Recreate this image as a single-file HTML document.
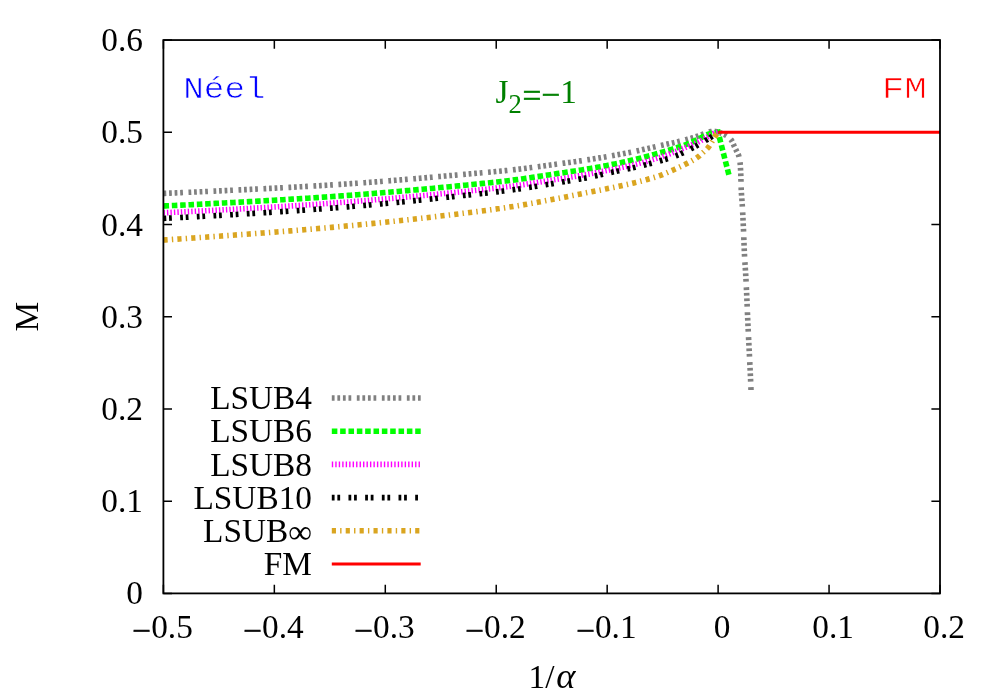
<!DOCTYPE html>
<html><head><meta charset="utf-8"><title>M vs 1/alpha</title>
<style>
html,body{margin:0;padding:0;background:#fff;}
svg{display:block;}
text{font-family:"Liberation Serif",serif;font-size:33.33px;fill:#000;}
.mono{font-family:"Liberation Mono",monospace;}
</style></head><body>
<svg width="1000" height="700" viewBox="0 0 1000 700">
<rect x="0" y="0" width="1000" height="700" fill="#ffffff"/>

<g stroke="#000" stroke-width="1.5" fill="none" stroke-linecap="butt">
<path d="M163.40,593.40 h8.60 M940.00,593.40 h-8.60"/>
<path d="M163.40,501.17 h8.60 M940.00,501.17 h-8.60"/>
<path d="M163.40,408.95 h8.60 M940.00,408.95 h-8.60"/>
<path d="M163.40,316.72 h8.60 M940.00,316.72 h-8.60"/>
<path d="M163.40,224.50 h8.60 M940.00,224.50 h-8.60"/>
<path d="M163.40,132.27 h8.60 M940.00,132.27 h-8.60"/>
<path d="M163.40,40.05 h8.60 M940.00,40.05 h-8.60"/>
<path d="M163.40,593.40 v-8.60 M163.40,40.05 v8.60"/>
<path d="M274.34,593.40 v-8.60 M274.34,40.05 v8.60"/>
<path d="M385.29,593.40 v-8.60 M385.29,40.05 v8.60"/>
<path d="M496.23,593.40 v-8.60 M496.23,40.05 v8.60"/>
<path d="M607.17,593.40 v-8.60 M607.17,40.05 v8.60"/>
<path d="M718.11,593.40 v-8.60 M718.11,40.05 v8.60"/>
<path d="M829.06,593.40 v-8.60 M829.06,40.05 v8.60"/>
<path d="M940.00,593.40 v-8.60 M940.00,40.05 v8.60"/>
</g>
<text x="143.00" y="604.40" text-anchor="end">0</text>
<text x="143.00" y="512.17" text-anchor="end">0.1</text>
<text x="143.00" y="419.95" text-anchor="end">0.2</text>
<text x="143.00" y="327.72" text-anchor="end">0.3</text>
<text x="143.00" y="235.50" text-anchor="end">0.4</text>
<text x="143.00" y="143.27" text-anchor="end">0.5</text>
<text x="143.00" y="51.05" text-anchor="end">0.6</text>
<text x="162.60" y="638.00" text-anchor="middle"><tspan dy="3.6" stroke="#000" stroke-width="0.4">−</tspan><tspan dy="-3.6">0.5</tspan></text>
<text x="273.54" y="638.00" text-anchor="middle"><tspan dy="3.6" stroke="#000" stroke-width="0.4">−</tspan><tspan dy="-3.6">0.4</tspan></text>
<text x="384.49" y="638.00" text-anchor="middle"><tspan dy="3.6" stroke="#000" stroke-width="0.4">−</tspan><tspan dy="-3.6">0.3</tspan></text>
<text x="495.43" y="638.00" text-anchor="middle"><tspan dy="3.6" stroke="#000" stroke-width="0.4">−</tspan><tspan dy="-3.6">0.2</tspan></text>
<text x="606.37" y="638.00" text-anchor="middle"><tspan dy="3.6" stroke="#000" stroke-width="0.4">−</tspan><tspan dy="-3.6">0.1</tspan></text>
<text x="722.21" y="638.00" text-anchor="middle">0</text>
<text x="833.16" y="638.00" text-anchor="middle">0.1</text>
<text x="944.10" y="638.00" text-anchor="middle">0.2</text>
<text x="528.6" y="687.6">1/<tspan dx="1.7" font-size="36.6" font-style="italic">α</tspan></text>
<text transform="translate(38.4,316.6) rotate(-90)" text-anchor="middle">M</text>
<text class="mono" transform="translate(183.2,97.7) scale(1.03,0.860)" style="fill:#0000ff;stroke:#fff;stroke-width:0.7px;paint-order:fill stroke">Néel</text>
<text class="mono" transform="translate(926.9,97.7) scale(1.13,0.860)" text-anchor="end" style="fill:#ff0000;stroke:#fff;stroke-width:0.7px;paint-order:fill stroke">FM</text>
<text x="495.5" y="102.8" style="fill:#008000">J<tspan dy="10" font-size="26.67">2</tspan><tspan dx="0.8" dy="-6.2" stroke="#008000" stroke-width="0.5">=</tspan><tspan dy="-0.2" stroke="#008000" stroke-width="0.5">−</tspan><tspan dy="-3.6">1</tspan></text>
<path d="M163.50,193.40 L164.88,193.34 L166.26,193.28 L167.64,193.22 L169.02,193.17 L170.40,193.11 L171.78,193.05 L173.16,192.99 L174.54,192.93 L175.92,192.87 L177.30,192.81 L178.68,192.75 L180.06,192.69 L181.44,192.63 L182.82,192.57 L184.20,192.50 L185.58,192.44 L186.96,192.38 L188.34,192.32 L189.71,192.26 L191.09,192.20 L192.47,192.13 L193.85,192.07 L195.23,192.01 L196.61,191.95 L197.99,191.88 L199.37,191.82 L200.75,191.76 L202.13,191.69 L203.51,191.63 L204.89,191.57 L206.27,191.50 L207.65,191.44 L209.03,191.37 L210.41,191.31 L211.79,191.24 L213.17,191.18 L214.55,191.12 L215.93,191.05 L217.31,190.98 L218.69,190.92 L220.06,190.85 L221.44,190.79 L222.82,190.72 L224.20,190.66 L225.58,190.59 L226.96,190.52 L228.34,190.46 L229.72,190.39 L231.10,190.32 L232.48,190.26 L233.86,190.19 L235.24,190.12 L236.62,190.06 L238.00,189.99 L239.38,189.92 L240.76,189.85 L242.14,189.79 L243.51,189.72 L244.89,189.65 L246.27,189.58 L247.65,189.52 L249.03,189.45 L250.41,189.38 L251.79,189.31 L253.17,189.24 L254.55,189.17 L255.93,189.10 L257.31,189.03 L258.69,188.97 L260.07,188.90 L261.45,188.83 L262.82,188.76 L264.20,188.69 L265.58,188.62 L266.96,188.55 L268.34,188.48 L269.72,188.41 L271.10,188.34 L272.48,188.27 L273.86,188.20 L275.24,188.13 L276.62,188.05 L278.00,187.98 L279.38,187.91 L280.75,187.84 L282.13,187.77 L283.51,187.69 L284.89,187.62 L286.27,187.55 L287.65,187.47 L289.03,187.40 L290.41,187.33 L291.79,187.25 L293.17,187.18 L294.55,187.10 L295.92,187.03 L297.30,186.95 L298.68,186.87 L300.06,186.80 L301.44,186.72 L302.82,186.64 L304.20,186.56 L305.58,186.48 L306.95,186.40 L308.33,186.32 L309.71,186.24 L311.09,186.16 L312.47,186.08 L313.85,186.00 L315.23,185.92 L316.60,185.84 L317.98,185.76 L319.36,185.67 L320.74,185.59 L322.12,185.51 L323.50,185.42 L324.88,185.34 L326.25,185.25 L327.63,185.17 L329.01,185.08 L330.39,184.99 L331.77,184.91 L333.15,184.82 L334.52,184.73 L335.90,184.64 L337.28,184.56 L338.66,184.47 L340.04,184.38 L341.42,184.29 L342.79,184.20 L344.17,184.10 L345.55,184.01 L346.93,183.92 L348.31,183.83 L349.68,183.73 L351.06,183.64 L352.44,183.55 L353.82,183.45 L355.19,183.36 L356.57,183.26 L357.95,183.16 L359.33,183.07 L360.70,182.97 L362.08,182.87 L363.46,182.77 L364.84,182.67 L366.21,182.57 L367.59,182.47 L368.97,182.37 L370.35,182.26 L371.72,182.16 L373.10,182.06 L374.48,181.95 L375.85,181.84 L377.23,181.74 L378.61,181.63 L379.98,181.52 L381.36,181.42 L382.74,181.31 L384.11,181.20 L385.49,181.09 L386.87,180.98 L388.24,180.87 L389.62,180.76 L391.00,180.64 L392.37,180.53 L393.75,180.42 L395.13,180.31 L396.50,180.19 L397.88,180.08 L399.26,179.97 L400.63,179.86 L402.01,179.74 L403.39,179.63 L404.76,179.51 L406.14,179.40 L407.51,179.29 L408.89,179.17 L410.27,179.06 L411.64,178.94 L413.02,178.83 L414.40,178.71 L415.77,178.60 L417.15,178.48 L418.52,178.36 L419.90,178.24 L421.28,178.13 L422.65,178.01 L424.03,177.89 L425.40,177.77 L426.78,177.65 L428.15,177.53 L429.53,177.41 L430.91,177.29 L432.28,177.17 L433.66,177.05 L435.03,176.93 L436.41,176.81 L437.78,176.68 L439.16,176.56 L440.54,176.44 L441.91,176.32 L443.29,176.19 L444.66,176.07 L446.04,175.95 L447.41,175.83 L448.79,175.70 L450.16,175.58 L451.54,175.46 L452.92,175.33 L454.29,175.21 L455.67,175.09 L457.04,174.96 L458.42,174.84 L459.79,174.72 L461.17,174.60 L462.54,174.47 L463.92,174.35 L465.30,174.23 L466.67,174.11 L468.05,173.99 L469.42,173.87 L470.80,173.76 L472.18,173.64 L473.55,173.52 L474.93,173.40 L476.31,173.28 L477.68,173.16 L479.06,173.04 L480.43,172.92 L481.81,172.81 L483.19,172.69 L484.56,172.57 L485.94,172.44 L487.31,172.32 L488.69,172.20 L490.07,172.08 L491.44,171.95 L492.82,171.83 L494.19,171.70 L495.57,171.57 L496.94,171.44 L498.32,171.31 L499.69,171.18 L501.06,171.05 L502.44,170.91 L503.81,170.78 L505.19,170.64 L506.56,170.50 L507.93,170.35 L509.31,170.21 L510.68,170.06 L512.05,169.91 L513.42,169.76 L514.79,169.61 L516.17,169.45 L517.54,169.29 L518.91,169.13 L520.28,168.97 L521.65,168.80 L523.02,168.63 L524.39,168.46 L525.76,168.29 L527.13,168.12 L528.50,167.94 L529.87,167.77 L531.24,167.59 L532.61,167.41 L533.98,167.23 L535.35,167.05 L536.72,166.86 L538.09,166.68 L539.46,166.50 L540.83,166.31 L542.19,166.13 L543.56,165.94 L544.93,165.75 L546.30,165.57 L547.67,165.38 L549.04,165.19 L550.41,165.01 L551.78,164.82 L553.14,164.63 L554.51,164.44 L555.88,164.26 L557.25,164.07 L558.62,163.89 L559.99,163.70 L561.36,163.52 L562.72,163.33 L564.09,163.15 L565.46,162.96 L566.83,162.78 L568.20,162.59 L569.57,162.41 L570.94,162.22 L572.30,162.03 L573.67,161.84 L575.04,161.65 L576.41,161.46 L577.77,161.26 L579.14,161.07 L580.51,160.87 L581.87,160.67 L583.24,160.47 L584.61,160.26 L585.97,160.06 L587.34,159.85 L588.70,159.64 L590.07,159.42 L591.43,159.21 L592.79,158.99 L594.16,158.77 L595.52,158.55 L596.88,158.33 L598.25,158.10 L599.61,157.88 L600.97,157.65 L602.33,157.42 L603.69,157.19 L605.06,156.96 L606.42,156.72 L607.78,156.49 L609.14,156.25 L610.50,156.01 L611.86,155.77 L613.22,155.53 L614.58,155.29 L615.94,155.04 L617.30,154.80 L618.66,154.55 L620.01,154.30 L621.37,154.05 L622.73,153.80 L624.09,153.54 L625.44,153.28 L626.80,153.02 L628.16,152.76 L629.51,152.49 L630.87,152.22 L632.22,151.95 L633.57,151.68 L634.92,151.40 L636.28,151.11 L637.62,150.82 L638.97,150.52 L640.32,150.22 L641.67,149.91 L643.01,149.60 L644.36,149.29 L645.70,148.98 L647.05,148.67 L648.40,148.35 L649.74,148.05 L651.09,147.74 L652.43,147.43 L653.78,147.12 L655.13,146.81 L656.47,146.50 L657.82,146.20 L659.16,145.89 L660.51,145.58 L661.86,145.28 L663.21,144.99 L664.56,144.69 L665.91,144.40 L667.26,144.11 L668.61,143.81 L669.96,143.52 L671.31,143.22 L672.65,142.92 L674.00,142.62 L675.35,142.31 L676.69,141.99 L678.03,141.66 L679.37,141.33 L680.71,141.00 L682.05,140.66 L683.39,140.32 L684.73,139.98 L686.07,139.63 L687.40,139.27 L688.73,138.90 L690.06,138.53 L691.39,138.15 L692.72,137.77 L694.04,137.37 L695.36,136.96 L696.66,136.51 L697.96,136.03 L699.25,135.55 L700.54,135.06 L701.84,134.58 L703.14,134.10 L704.43,133.60 L705.73,133.08 L707.02,132.57 L708.33,132.13 L709.65,131.80 L711.01,131.58 L712.39,131.39 L713.77,131.30 L715.12,131.41 L716.47,131.75 L717.81,132.15 L719.14,132.52 L720.46,132.95 L721.76,133.41" fill="none" stroke="#808080" stroke-width="5.60" stroke-dasharray="2.78,2.78,2.78,2.78,2.78,2.78,2.78,5.56" stroke-linejoin="miter" stroke-linecap="butt"/>
<path d="M721.76,133.41 L723.06,133.91 L724.35,134.44 L725.59,135.05 L726.74,135.75 L727.86,136.56 L728.94,137.48 L729.96,138.48 L730.88,139.53 L731.67,140.61 L732.33,141.78 L732.91,143.04 L733.45,144.34 L734.01,145.62 L734.60,146.87 L735.19,148.12 L735.78,149.37 L736.36,150.62 L736.97,151.87 L737.62,153.11 L738.21,154.36 L738.70,155.64 L739.04,156.95 L739.34,158.29 L739.61,159.65 L739.84,161.03 L740.03,162.41 L740.18,163.78 L740.29,165.15 L740.39,166.53 L740.48,167.91 L740.55,169.29 L740.62,170.67 L740.68,172.05 L740.74,173.43 L740.79,174.81 L740.84,176.19 L740.89,177.57 L740.92,178.95 L740.96,180.33 L740.99,181.72 L741.02,183.10 L741.06,184.48 L741.09,185.86 L741.14,187.24 L741.19,188.62 L741.24,190.00 L741.31,191.38 L741.40,192.75 L741.49,194.13 L741.58,195.51 L741.69,196.89 L741.79,198.26 L741.90,199.64 L742.00,201.02 L742.10,202.40 L742.19,203.77 L742.28,205.15 L742.36,206.53 L742.43,207.91 L742.51,209.29 L742.58,210.67 L742.66,212.05 L742.73,213.43 L742.80,214.81 L742.86,216.19 L742.93,217.56 L743.00,218.94 L743.06,220.32 L743.13,221.70 L743.19,223.08 L743.25,224.46 L743.32,225.84 L743.38,227.22 L743.44,228.60 L743.50,229.98 L743.56,231.36 L743.62,232.74 L743.67,234.12 L743.73,235.50 L743.78,236.88 L743.83,238.26 L743.88,239.64 L743.93,241.02 L743.98,242.40 L744.03,243.78 L744.09,245.16 L744.14,246.54 L744.19,247.92 L744.25,249.30 L744.30,250.68 L744.36,252.06 L744.43,253.44 L744.49,254.82 L744.56,256.20 L744.63,257.58 L744.71,258.96 L744.79,260.33 L744.88,261.71 L744.97,263.09 L745.06,264.47 L745.15,265.85 L745.24,267.23 L745.33,268.60 L745.42,269.98 L745.51,271.36 L745.60,272.74 L745.68,274.12 L745.76,275.50 L745.84,276.87 L745.91,278.25 L745.98,279.63 L746.05,281.01 L746.12,282.39 L746.19,283.77 L746.26,285.15 L746.32,286.53 L746.39,287.91 L746.45,289.29 L746.51,290.67 L746.58,292.05 L746.64,293.43 L746.70,294.81 L746.76,296.19 L746.82,297.57 L746.88,298.95 L746.94,300.33 L746.99,301.71 L747.05,303.09 L747.11,304.47 L747.17,305.84 L747.22,307.22 L747.28,308.60 L747.34,309.98 L747.40,311.36 L747.45,312.74 L747.51,314.12 L747.57,315.50 L747.63,316.88 L747.68,318.26 L747.74,319.64 L747.80,321.02 L747.86,322.40 L747.92,323.78 L747.98,325.16 L748.04,326.54 L748.11,327.92 L748.17,329.30 L748.23,330.68 L748.30,332.06 L748.36,333.44 L748.43,334.82 L748.49,336.20 L748.56,337.58 L748.63,338.96 L748.69,340.34 L748.76,341.72 L748.83,343.10 L748.90,344.48 L748.96,345.85 L749.03,347.23 L749.10,348.61 L749.17,349.99 L749.24,351.37 L749.31,352.75 L749.38,354.13 L749.45,355.51 L749.51,356.89 L749.58,358.27 L749.65,359.65 L749.72,361.03 L749.79,362.41 L749.85,363.79 L749.92,365.17 L749.99,366.54 L750.05,367.92 L750.12,369.30 L750.18,370.68 L750.25,372.06 L750.31,373.44 L750.37,374.82 L750.43,376.20 L750.50,377.58 L750.56,378.96 L750.61,380.34 L750.67,381.72 L750.73,383.10 L750.78,384.48 L750.84,385.86 L750.89,387.24 L750.95,388.62 L751.00,390.00" fill="none" stroke="#808080" stroke-width="5.60" stroke-dasharray="2.78,2.78,2.78,2.78,2.78,2.78,2.78,5.56" stroke-dashoffset="14.15" stroke-linejoin="miter" stroke-linecap="butt"/>
<path d="M163.50,206.00 L165.75,205.89 L168.01,205.79 L170.26,205.68 L172.52,205.57 L174.77,205.46 L177.03,205.36 L179.28,205.25 L181.54,205.14 L183.79,205.02 L186.05,204.91 L188.30,204.80 L190.56,204.69 L192.81,204.58 L195.07,204.46 L197.32,204.35 L199.57,204.23 L201.83,204.12 L204.08,204.00 L206.34,203.89 L208.59,203.77 L210.85,203.65 L213.10,203.54 L215.36,203.42 L217.61,203.30 L219.86,203.18 L222.12,203.06 L224.37,202.94 L226.63,202.82 L228.88,202.70 L231.13,202.58 L233.39,202.46 L235.64,202.34 L237.90,202.22 L240.15,202.09 L242.40,201.97 L244.66,201.85 L246.91,201.72 L249.17,201.60 L251.42,201.48 L253.67,201.35 L255.93,201.23 L258.18,201.10 L260.44,200.98 L262.69,200.85 L264.94,200.72 L267.20,200.60 L269.45,200.47 L271.70,200.34 L273.96,200.21 L276.21,200.08 L278.47,199.95 L280.72,199.82 L282.97,199.69 L285.23,199.56 L287.48,199.42 L289.73,199.29 L291.99,199.15 L294.24,199.02 L296.49,198.88 L298.75,198.74 L301.00,198.60 L303.25,198.46 L305.50,198.32 L307.76,198.18 L310.01,198.03 L312.26,197.89 L314.51,197.74 L316.77,197.59 L319.02,197.44 L321.27,197.29 L323.52,197.14 L325.78,196.99 L328.03,196.83 L330.28,196.68 L332.53,196.52 L334.78,196.36 L337.04,196.21 L339.29,196.05 L341.54,195.89 L343.79,195.72 L346.04,195.56 L348.29,195.39 L350.55,195.23 L352.80,195.06 L355.05,194.89 L357.30,194.72 L359.55,194.55 L361.80,194.38 L364.05,194.21 L366.30,194.03 L368.55,193.86 L370.80,193.68 L373.05,193.50 L375.30,193.32 L377.55,193.13 L379.80,192.95 L382.05,192.76 L384.30,192.57 L386.55,192.39 L388.80,192.20 L391.05,192.01 L393.30,191.81 L395.55,191.62 L397.80,191.43 L400.05,191.23 L402.29,191.04 L404.54,190.84 L406.79,190.65 L409.04,190.45 L411.29,190.25 L413.54,190.05 L415.79,189.85 L418.04,189.65 L420.28,189.45 L422.53,189.25 L424.78,189.04 L427.03,188.84 L429.28,188.63 L431.52,188.42 L433.77,188.21 L436.02,188.00 L438.27,187.79 L440.51,187.58 L442.76,187.37 L445.01,187.16 L447.26,186.94 L449.50,186.72 L451.75,186.51 L454.00,186.29 L456.24,186.07 L458.49,185.85 L460.74,185.63 L462.98,185.41 L465.23,185.19 L467.48,184.97 L469.72,184.75 L471.97,184.53 L474.22,184.30 L476.46,184.08 L478.71,183.86 L480.96,183.64 L483.20,183.41 L485.45,183.18 L487.70,182.95 L489.94,182.72 L492.19,182.48 L494.43,182.24 L496.68,182.00 L498.92,181.75 L501.16,181.50 L503.40,181.25 L505.65,180.99 L507.89,180.72 L510.13,180.45 L512.37,180.17 L514.60,179.89 L516.84,179.60 L519.08,179.30 L521.31,178.99 L523.55,178.68 L525.78,178.36 L528.02,178.04 L530.25,177.71 L532.49,177.38 L534.72,177.05 L536.95,176.71 L539.18,176.37 L541.42,176.03 L543.65,175.69 L545.88,175.35 L548.11,175.00 L550.34,174.66 L552.58,174.32 L554.81,173.98 L557.04,173.64 L559.27,173.31 L561.50,172.98 L563.74,172.65 L565.97,172.32 L568.20,171.99 L570.44,171.65 L572.67,171.32 L574.90,170.98 L577.13,170.64 L579.36,170.30 L581.59,169.94 L583.82,169.59 L586.05,169.22 L588.28,168.85 L590.50,168.47 L592.73,168.09 L594.95,167.70 L597.17,167.30 L599.40,166.90 L601.62,166.50 L603.84,166.08 L606.05,165.66 L608.27,165.24 L610.48,164.80 L612.70,164.36 L614.91,163.92 L617.12,163.46 L619.33,163.00 L621.54,162.53 L623.75,162.05 L625.95,161.57 L628.16,161.07 L630.36,160.57 L632.56,160.06 L634.75,159.54 L636.94,159.00 L639.13,158.44 L641.31,157.87 L643.49,157.28 L645.67,156.69 L647.85,156.10 L650.03,155.51 L652.21,154.92 L654.39,154.34 L656.57,153.75 L658.75,153.15 L660.92,152.54 L663.09,151.92 L665.26,151.29 L667.42,150.65 L669.58,150.00 L671.74,149.33 L673.90,148.66 L676.05,147.98 L678.21,147.29 L680.35,146.58 L682.48,145.85 L684.60,145.08 L686.70,144.27 L688.79,143.40 L690.86,142.50 L692.92,141.58 L694.97,140.64 L697.00,139.65 L699.02,138.64 L701.04,137.63 L703.05,136.57 L705.05,135.48 L707.09,134.54 L709.21,133.85 L711.41,133.31 L713.64,132.87 L715.86,132.49 L718.10,132.20 L729.00,175.30" fill="none" stroke="#00ff00" stroke-width="5.60" stroke-dasharray="5.56,2.78" stroke-linejoin="miter" stroke-linecap="butt"/>
<path d="M163.50,212.80 L165.76,212.70 L168.03,212.59 L170.29,212.49 L172.55,212.38 L174.81,212.28 L177.08,212.17 L179.34,212.06 L181.60,211.96 L183.86,211.85 L186.13,211.74 L188.39,211.63 L190.65,211.51 L192.91,211.40 L195.17,211.29 L197.44,211.18 L199.70,211.06 L201.96,210.95 L204.22,210.83 L206.48,210.71 L208.75,210.60 L211.01,210.48 L213.27,210.36 L215.53,210.24 L217.79,210.12 L220.06,210.00 L222.32,209.88 L224.58,209.76 L226.84,209.64 L229.10,209.52 L231.36,209.40 L233.63,209.27 L235.89,209.15 L238.15,209.02 L240.41,208.90 L242.67,208.77 L244.93,208.65 L247.20,208.52 L249.46,208.40 L251.72,208.27 L253.98,208.14 L256.24,208.01 L258.50,207.89 L260.76,207.76 L263.02,207.63 L265.29,207.50 L267.55,207.37 L269.81,207.23 L272.07,207.10 L274.33,206.97 L276.59,206.83 L278.85,206.69 L281.11,206.56 L283.37,206.42 L285.63,206.28 L287.89,206.14 L290.15,206.00 L292.42,205.85 L294.68,205.71 L296.94,205.57 L299.20,205.42 L301.46,205.27 L303.72,205.12 L305.98,204.97 L308.24,204.82 L310.50,204.67 L312.76,204.52 L315.02,204.36 L317.28,204.21 L319.53,204.05 L321.79,203.89 L324.05,203.73 L326.31,203.57 L328.57,203.41 L330.83,203.24 L333.09,203.08 L335.35,202.91 L337.61,202.74 L339.87,202.58 L342.13,202.41 L344.38,202.23 L346.64,202.06 L348.90,201.89 L351.16,201.71 L353.42,201.54 L355.67,201.36 L357.93,201.18 L360.19,201.00 L362.45,200.82 L364.71,200.64 L366.96,200.46 L369.22,200.28 L371.48,200.09 L373.74,199.90 L375.99,199.71 L378.25,199.52 L380.51,199.33 L382.76,199.14 L385.02,198.94 L387.28,198.75 L389.53,198.55 L391.79,198.36 L394.05,198.16 L396.30,197.96 L398.56,197.76 L400.81,197.56 L403.07,197.35 L405.33,197.15 L407.58,196.95 L409.84,196.74 L412.09,196.54 L414.35,196.33 L416.60,196.12 L418.86,195.91 L421.11,195.70 L423.37,195.49 L425.62,195.28 L427.88,195.07 L430.13,194.85 L432.39,194.64 L434.64,194.42 L436.90,194.20 L439.15,193.98 L441.41,193.76 L443.66,193.54 L445.92,193.32 L448.17,193.10 L450.42,192.87 L452.68,192.64 L454.93,192.42 L457.18,192.19 L459.44,191.96 L461.69,191.73 L463.94,191.50 L466.20,191.27 L468.45,191.04 L470.70,190.81 L472.96,190.57 L475.21,190.34 L477.46,190.11 L479.72,189.87 L481.97,189.64 L484.22,189.40 L486.48,189.16 L488.73,188.91 L490.98,188.67 L493.23,188.42 L495.48,188.16 L497.73,187.91 L499.98,187.65 L502.23,187.38 L504.48,187.11 L506.73,186.83 L508.97,186.55 L511.22,186.27 L513.46,185.97 L515.71,185.67 L517.95,185.36 L520.19,185.04 L522.43,184.72 L524.67,184.39 L526.91,184.05 L529.15,183.71 L531.39,183.37 L533.63,183.02 L535.87,182.67 L538.10,182.31 L540.34,181.96 L542.58,181.60 L544.82,181.24 L547.05,180.88 L549.29,180.52 L551.53,180.16 L553.76,179.80 L556.00,179.44 L558.24,179.08 L560.47,178.72 L562.71,178.37 L564.95,178.02 L567.19,177.66 L569.42,177.31 L571.66,176.95 L573.90,176.59 L576.13,176.22 L578.37,175.85 L580.60,175.47 L582.83,175.09 L585.06,174.70 L587.29,174.30 L589.52,173.90 L591.75,173.49 L593.97,173.07 L596.20,172.64 L598.42,172.21 L600.65,171.78 L602.87,171.34 L605.09,170.90 L607.31,170.45 L609.53,170.00 L611.75,169.54 L613.97,169.09 L616.18,168.63 L618.40,168.16 L620.62,167.69 L622.83,167.22 L625.05,166.73 L627.26,166.24 L629.47,165.74 L631.67,165.23 L633.87,164.70 L636.07,164.16 L638.27,163.60 L640.45,163.02 L642.64,162.42 L644.82,161.81 L647.00,161.19 L649.18,160.57 L651.36,159.94 L653.53,159.31 L655.70,158.66 L657.87,157.99 L660.02,157.29 L662.16,156.56 L664.29,155.81 L666.42,155.04 L668.54,154.25 L670.66,153.44 L672.77,152.61 L674.87,151.78 L676.98,150.93 L679.08,150.08 L681.18,149.22 L683.28,148.36 L685.37,147.50 L687.47,146.64 L689.57,145.78 L691.66,144.92 L693.75,144.04 L695.83,143.14 L697.89,142.21 L699.92,141.20 L701.91,140.13 L703.89,139.03 L705.86,137.91 L707.84,136.80 L709.81,135.64 L711.76,134.44 L713.76,133.40 L715.87,132.68 L718.10,132.20" fill="none" stroke="#ff00ff" stroke-width="5.60" stroke-dasharray="1.39,2.08" stroke-linejoin="miter" stroke-linecap="butt"/>
<path d="M163.50,218.40 L165.77,218.29 L168.04,218.17 L170.31,218.06 L172.58,217.94 L174.85,217.83 L177.12,217.71 L179.39,217.59 L181.66,217.47 L183.93,217.35 L186.19,217.23 L188.46,217.11 L190.73,216.99 L193.00,216.87 L195.27,216.75 L197.54,216.62 L199.81,216.50 L202.08,216.37 L204.35,216.25 L206.62,216.12 L208.88,216.00 L211.15,215.87 L213.42,215.74 L215.69,215.61 L217.96,215.48 L220.23,215.35 L222.50,215.22 L224.77,215.09 L227.03,214.96 L229.30,214.83 L231.57,214.70 L233.84,214.57 L236.11,214.43 L238.38,214.30 L240.64,214.16 L242.91,214.03 L245.18,213.89 L247.45,213.76 L249.72,213.62 L251.99,213.49 L254.25,213.35 L256.52,213.21 L258.79,213.07 L261.06,212.94 L263.33,212.80 L265.59,212.66 L267.86,212.52 L270.13,212.38 L272.40,212.23 L274.67,212.09 L276.93,211.95 L279.20,211.80 L281.47,211.66 L283.74,211.51 L286.00,211.36 L288.27,211.21 L290.54,211.06 L292.81,210.91 L295.07,210.76 L297.34,210.60 L299.61,210.45 L301.87,210.29 L304.14,210.14 L306.41,209.98 L308.67,209.82 L310.94,209.66 L313.21,209.49 L315.47,209.33 L317.74,209.16 L320.01,209.00 L322.27,208.83 L324.54,208.66 L326.80,208.49 L329.07,208.32 L331.34,208.14 L333.60,207.97 L335.87,207.79 L338.13,207.61 L340.40,207.43 L342.66,207.25 L344.93,207.07 L347.19,206.89 L349.46,206.70 L351.72,206.51 L353.99,206.33 L356.25,206.14 L358.52,205.95 L360.78,205.75 L363.04,205.56 L365.31,205.36 L367.57,205.16 L369.83,204.96 L372.10,204.76 L374.36,204.55 L376.62,204.35 L378.89,204.14 L381.15,203.93 L383.41,203.72 L385.67,203.50 L387.94,203.29 L390.20,203.07 L392.46,202.86 L394.72,202.64 L396.99,202.42 L399.25,202.20 L401.51,201.98 L403.77,201.76 L406.03,201.54 L408.29,201.31 L410.55,201.09 L412.82,200.87 L415.08,200.64 L417.34,200.41 L419.60,200.18 L421.86,199.95 L424.12,199.72 L426.38,199.49 L428.64,199.25 L430.90,199.02 L433.16,198.78 L435.42,198.54 L437.68,198.30 L439.94,198.06 L442.20,197.82 L444.46,197.58 L446.72,197.34 L448.98,197.10 L451.24,196.85 L453.50,196.61 L455.75,196.36 L458.01,196.12 L460.27,195.87 L462.53,195.62 L464.79,195.38 L467.05,195.14 L469.31,194.89 L471.57,194.65 L473.83,194.41 L476.09,194.16 L478.35,193.92 L480.61,193.67 L482.87,193.42 L485.13,193.18 L487.39,192.92 L489.64,192.67 L491.90,192.41 L494.16,192.15 L496.42,191.89 L498.67,191.62 L500.93,191.35 L503.18,191.07 L505.44,190.79 L507.69,190.50 L509.94,190.21 L512.19,189.91 L514.44,189.60 L516.69,189.28 L518.94,188.96 L521.19,188.63 L523.44,188.30 L525.68,187.96 L527.93,187.61 L530.18,187.27 L532.42,186.91 L534.67,186.56 L536.91,186.20 L539.15,185.83 L541.40,185.47 L543.64,185.10 L545.88,184.73 L548.13,184.36 L550.37,183.99 L552.61,183.62 L554.85,183.25 L557.10,182.88 L559.34,182.51 L561.58,182.14 L563.82,181.77 L566.07,181.41 L568.31,181.04 L570.55,180.67 L572.79,180.29 L575.03,179.91 L577.27,179.53 L579.51,179.13 L581.75,178.72 L583.98,178.31 L586.21,177.88 L588.43,177.43 L590.66,176.96 L592.88,176.48 L595.10,175.99 L597.31,175.49 L599.53,174.98 L601.75,174.48 L603.96,173.98 L606.18,173.48 L608.40,172.99 L610.62,172.51 L612.84,172.04 L615.07,171.58 L617.30,171.12 L619.52,170.66 L621.75,170.21 L623.98,169.75 L626.20,169.29 L628.43,168.83 L630.65,168.35 L632.87,167.86 L635.08,167.36 L637.29,166.84 L639.50,166.30 L641.70,165.75 L643.91,165.19 L646.11,164.62 L648.31,164.05 L650.51,163.49 L652.71,162.92 L654.91,162.36 L657.11,161.78 L659.30,161.18 L661.48,160.54 L663.67,159.90 L665.85,159.24 L668.02,158.56 L670.19,157.86 L672.34,157.13 L674.47,156.36 L676.58,155.56 L678.68,154.70 L680.75,153.79 L682.82,152.84 L684.87,151.85 L686.91,150.84 L688.94,149.80 L690.97,148.76 L692.99,147.71 L695.00,146.66 L696.98,145.55 L698.96,144.42 L700.92,143.28 L702.88,142.12 L704.83,140.96 L706.78,139.79 L708.72,138.60 L710.64,137.39 L712.53,136.14 L714.41,134.86 L716.26,133.54 L718.10,132.20" fill="none" stroke="#000000" stroke-width="5.60" stroke-dasharray="2.78,2.78,2.78,8.34" stroke-linejoin="miter" stroke-linecap="butt"/>
<path d="M163.50,240.00 L165.81,239.85 L168.12,239.70 L170.43,239.55 L172.73,239.39 L175.04,239.24 L177.35,239.09 L179.66,238.93 L181.97,238.78 L184.28,238.62 L186.58,238.47 L188.89,238.31 L191.20,238.15 L193.51,237.99 L195.82,237.83 L198.12,237.67 L200.43,237.51 L202.74,237.35 L205.05,237.19 L207.36,237.03 L209.66,236.87 L211.97,236.70 L214.28,236.54 L216.59,236.38 L218.89,236.21 L221.20,236.05 L223.51,235.88 L225.82,235.72 L228.12,235.55 L230.43,235.38 L232.74,235.21 L235.05,235.05 L237.35,234.88 L239.66,234.71 L241.97,234.54 L244.27,234.37 L246.58,234.20 L248.89,234.03 L251.20,233.86 L253.50,233.69 L255.81,233.51 L258.12,233.34 L260.42,233.17 L262.73,233.00 L265.04,232.82 L267.34,232.65 L269.65,232.47 L271.96,232.30 L274.26,232.12 L276.57,231.94 L278.88,231.76 L281.18,231.59 L283.49,231.41 L285.80,231.22 L288.10,231.04 L290.41,230.86 L292.72,230.67 L295.02,230.49 L297.33,230.30 L299.63,230.12 L301.94,229.93 L304.24,229.74 L306.55,229.54 L308.86,229.35 L311.16,229.16 L313.47,228.96 L315.77,228.76 L318.08,228.57 L320.38,228.37 L322.68,228.16 L324.99,227.96 L327.29,227.76 L329.60,227.55 L331.90,227.35 L334.21,227.14 L336.51,226.93 L338.81,226.72 L341.12,226.51 L343.42,226.29 L345.73,226.08 L348.03,225.86 L350.33,225.65 L352.63,225.43 L354.94,225.21 L357.24,224.99 L359.54,224.76 L361.85,224.54 L364.15,224.32 L366.45,224.09 L368.75,223.86 L371.05,223.63 L373.36,223.40 L375.66,223.17 L377.96,222.93 L380.26,222.69 L382.56,222.46 L384.86,222.22 L387.16,221.98 L389.47,221.74 L391.77,221.49 L394.07,221.25 L396.37,221.00 L398.67,220.76 L400.97,220.51 L403.27,220.26 L405.57,220.01 L407.87,219.76 L410.17,219.51 L412.47,219.25 L414.77,219.00 L417.06,218.74 L419.36,218.49 L421.66,218.23 L423.96,217.97 L426.26,217.71 L428.56,217.45 L430.86,217.18 L433.16,216.92 L435.45,216.65 L437.75,216.38 L440.05,216.11 L442.35,215.84 L444.64,215.57 L446.94,215.30 L449.24,215.02 L451.54,214.74 L453.83,214.46 L456.13,214.18 L458.42,213.90 L460.72,213.61 L463.01,213.32 L465.31,213.04 L467.61,212.75 L469.90,212.47 L472.20,212.18 L474.49,211.89 L476.79,211.60 L479.09,211.30 L481.38,211.01 L483.68,210.71 L485.97,210.41 L488.26,210.11 L490.56,209.80 L492.85,209.49 L495.14,209.17 L497.43,208.85 L499.72,208.53 L502.01,208.20 L504.30,207.87 L506.59,207.53 L508.87,207.18 L511.16,206.83 L513.44,206.47 L515.73,206.10 L518.01,205.73 L520.29,205.35 L522.57,204.96 L524.85,204.56 L527.13,204.16 L529.40,203.75 L531.68,203.34 L533.96,202.92 L536.23,202.50 L538.51,202.08 L540.78,201.65 L543.06,201.23 L545.33,200.79 L547.60,200.36 L549.88,199.93 L552.15,199.50 L554.42,199.06 L556.70,198.63 L558.97,198.20 L561.24,197.76 L563.51,197.33 L565.78,196.88 L568.05,196.44 L570.32,195.98 L572.59,195.53 L574.86,195.08 L577.13,194.62 L579.40,194.17 L581.66,193.71 L583.93,193.26 L586.20,192.81 L588.47,192.36 L590.74,191.92 L593.01,191.48 L595.29,191.04 L597.56,190.59 L599.83,190.15 L602.10,189.70 L604.37,189.25 L606.63,188.79 L608.90,188.33 L611.16,187.86 L613.43,187.39 L615.69,186.91 L617.96,186.43 L620.22,185.95 L622.48,185.47 L624.74,184.97 L627.00,184.47 L629.26,183.96 L631.51,183.44 L633.76,182.91 L636.01,182.37 L638.26,181.81 L640.50,181.24 L642.74,180.65 L644.97,180.05 L647.20,179.43 L649.43,178.81 L651.65,178.18 L653.88,177.54 L656.10,176.88 L658.31,176.18 L660.49,175.43 L662.64,174.60 L664.78,173.72 L666.90,172.80 L669.02,171.84 L671.13,170.88 L673.24,169.93 L675.35,168.98 L677.45,168.02 L679.55,167.05 L681.64,166.06 L683.72,165.05 L685.79,164.01 L687.85,162.96 L689.91,161.89 L691.94,160.78 L693.95,159.64 L695.92,158.43 L697.83,157.12 L699.62,155.66 L701.33,154.11 L703.03,152.52 L704.75,150.96 L706.47,149.38 L708.04,147.71 L709.39,145.86 L710.61,143.89 L711.81,141.89 L712.99,139.90 L714.15,137.89 L715.36,135.92 L716.68,134.03 L718.10,132.20" fill="none" stroke="#daa520" stroke-width="5.60" stroke-dasharray="4.17,4.17,1.39,4.17" stroke-linejoin="miter" stroke-linecap="butt"/>
<path d="M718.11,132.27 H940.00" fill="none" stroke="#ff0000" stroke-width="3.2"/>
<rect x="163.40" y="40.05" width="776.60" height="553.35" fill="none" stroke="#000" stroke-width="1.8"/>
<text x="312.00" y="409.20" text-anchor="end">LSUB4</text>
<path d="M331.8,398.00 H420.7" stroke="#808080" stroke-width="5.60" stroke-dasharray="2.78,2.78,2.78,2.78,2.78,2.78,2.78,5.56" fill="none"/>
<text x="312.00" y="442.40" text-anchor="end">LSUB6</text>
<path d="M331.8,431.20 H420.7" stroke="#00ff00" stroke-width="5.60" stroke-dasharray="5.56,2.78" fill="none"/>
<text x="312.00" y="475.60" text-anchor="end">LSUB8</text>
<path d="M331.8,464.40 H420.7" stroke="#ff00ff" stroke-width="5.60" stroke-dasharray="1.39,2.08" fill="none"/>
<text x="312.00" y="508.80" text-anchor="end">LSUB10</text>
<path d="M331.8,497.60 H420.7" stroke="#000000" stroke-width="5.60" stroke-dasharray="2.78,2.78,2.78,8.34" fill="none"/>
<text x="312.00" y="542.00" text-anchor="end">LSUB<tspan dy="1.4">∞</tspan></text>
<path d="M331.8,530.80 H420.7" stroke="#daa520" stroke-width="5.60" stroke-dasharray="4.17,4.17,1.39,4.17" fill="none"/>
<text x="312.00" y="575.20" text-anchor="end">FM</text>
<path d="M331.8,564.00 H420.7" stroke="#ff0000" stroke-width="3.2" fill="none"/>
</svg></body></html>
